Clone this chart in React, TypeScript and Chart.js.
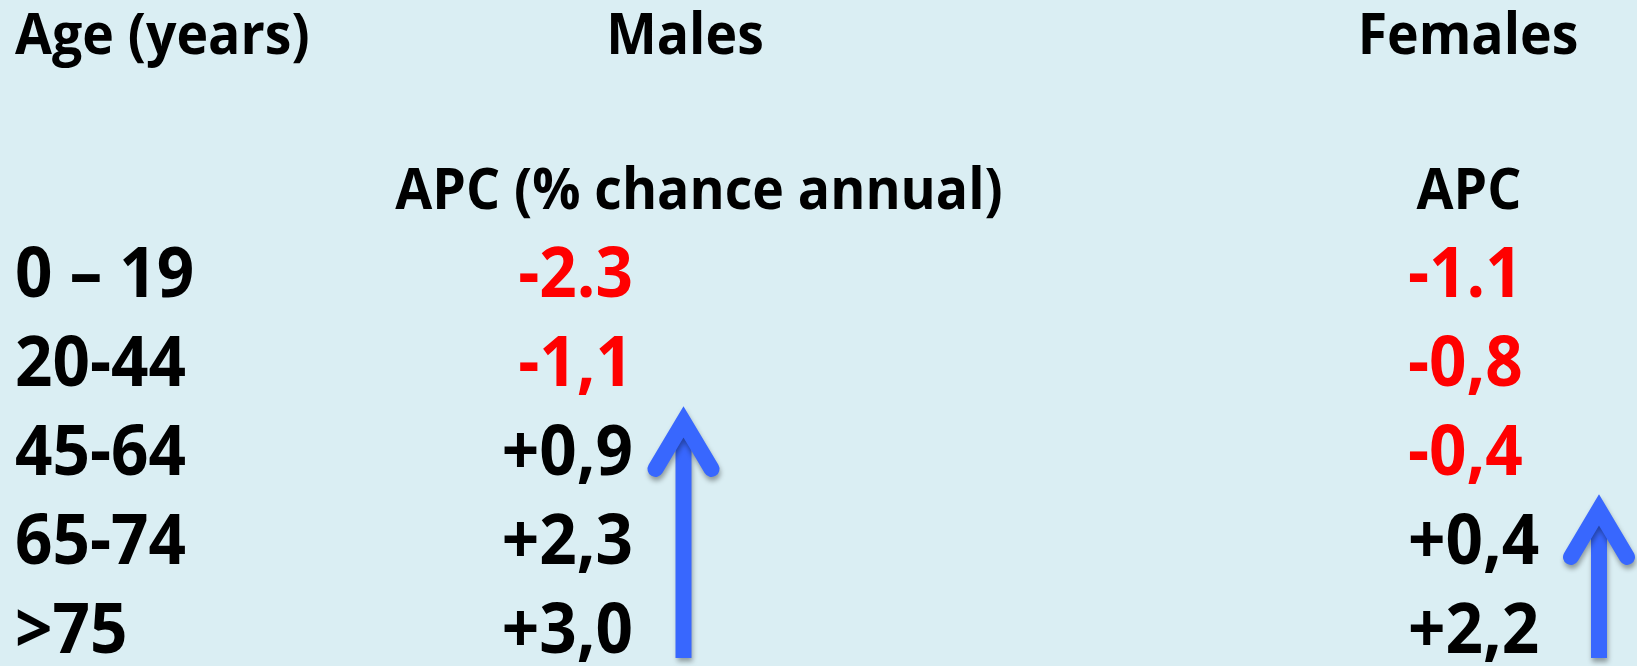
import React, { useEffect, useRef } from "react";
import { Chart, registerables } from "chart.js";

Chart.register(...registerables);

// ---- data ----
const ageGroups = ["0 – 19", "20-44", "45-64", "65-74", ">75"];
const maleAPC = ["-2.3", "-1,1", "+0,9", "+2,3", "+3,0"];
const femaleAPC = ["-1.1", "-0,8", "-0,4", "+0,4", "+2,2"];
const headerLabels = ["Age (years)", "Males", "Females"];
const subHeaderLabels = ["APC (% chance annual)", "APC"];
// arrows: [tip row, tail row]
const maleArrowRows = [1.213, 4.056];
const femaleArrowRows = [2.202, 4.056];

const BG = "#DAEEF3";
const RED = "#FF0000";
const BLACK = "#000000";
const BLUE = "#3867FE";
const FONT = "'Open Sans', Lato, sans-serif";
const HEAD_SIZE = 57;
const HEAD_SX = 0.94;
const ROW_SIZE = 69;
const ROW_SX = 0.95;

// layout columns (x scale units = px)
const COL_AGE = 15;
const COL_MALE_RIGHT = 633;
const COL_FEMALE_LEFT = 1408;
const MALE_ARROW_X = 683.5;
const FEMALE_ARROW_X = 1599;

function isNeg(v: string) {
  return v.trim().startsWith("-");
}

function drawText(
  ctx: CanvasRenderingContext2D,
  text: string,
  x: number,
  y: number,
  size: number,
  sx: number,
  align: "left" | "right" | "center",
  color: string
) {
  ctx.save();
  ctx.font = `bold ${size}px ${FONT}`;
  ctx.fillStyle = color;
  ctx.textBaseline = "alphabetic";
  const w = ctx.measureText(text).width * sx;
  let left = x;
  if (align === "right") left = x - w;
  if (align === "center") left = x - w / 2;
  ctx.translate(left, y);
  ctx.scale(sx, 1);
  ctx.textAlign = "left";
  ctx.fillText(text, 0, 0);
  ctx.restore();
}

const tablePlugin = {
  id: "tablePlugin",
  afterDatasetsDraw(chart: any) {
    const ctx: CanvasRenderingContext2D = chart.ctx;
    const xs = chart.scales.x;
    const ys = chart.scales.y;
    // headers
    const yHead = ys.getPixelForValue(-2.73);
    drawText(ctx, headerLabels[0], xs.getPixelForValue(COL_AGE), yHead, HEAD_SIZE, HEAD_SX, "left", BLACK);
    drawText(ctx, headerLabels[1], xs.getPixelForValue(685), yHead, HEAD_SIZE, HEAD_SX, "center", BLACK);
    drawText(ctx, headerLabels[2], xs.getPixelForValue(1468), yHead, HEAD_SIZE, HEAD_SX, "center", BLACK);
    const ySub = ys.getPixelForValue(-0.99);
    drawText(ctx, subHeaderLabels[0], xs.getPixelForValue(699), ySub, HEAD_SIZE, HEAD_SX, "center", BLACK);
    drawText(ctx, subHeaderLabels[1], xs.getPixelForValue(1469), ySub, HEAD_SIZE, HEAD_SX, "center", BLACK);

    const metaAge = chart.getDatasetMeta(0);
    metaAge.data.forEach((pt: any, i: number) => {
      drawText(ctx, ageGroups[i], pt.x, pt.y, ROW_SIZE, ROW_SX, "left", BLACK);
    });
    const metaM = chart.getDatasetMeta(1);
    metaM.data.forEach((pt: any, i: number) => {
      const v = maleAPC[i];
      drawText(ctx, v, pt.x, pt.y, ROW_SIZE, ROW_SX, "right", isNeg(v) ? RED : BLACK);
    });
    const metaF = chart.getDatasetMeta(2);
    metaF.data.forEach((pt: any, i: number) => {
      const v = femaleAPC[i];
      drawText(ctx, v, pt.x, pt.y, ROW_SIZE, ROW_SX, "left", isNeg(v) ? RED : BLACK);
    });

    // arrows
    const drawArrow = (xv: number, rows: number[]) => {
      const x = xs.getPixelForValue(xv);
      const yTip = ys.getPixelForValue(rows[0]);
      const yTail = ys.getPixelForValue(rows[1]);
      const lw = 16;
      ctx.save();
      ctx.shadowColor = "rgba(0,0,0,0.35)";
      ctx.shadowBlur = 5;
      ctx.shadowOffsetX = 1;
      ctx.shadowOffsetY = 4;
      ctx.fillStyle = BLUE;
      ctx.strokeStyle = BLUE;
      ctx.fillRect(x - lw / 2, yTip + 30, lw, yTail - (yTip + 30));
      ctx.lineWidth = lw;
      ctx.lineCap = "round";
      ctx.lineJoin = "miter";
      ctx.miterLimit = 10;
      ctx.beginPath();
      ctx.moveTo(x - 28, yTip + 64);
      ctx.lineTo(x, yTip + 17);
      ctx.lineTo(x + 28, yTip + 64);
      ctx.stroke();
      ctx.restore();
    };
    drawArrow(MALE_ARROW_X, maleArrowRows);
    drawArrow(FEMALE_ARROW_X, femaleArrowRows);
  },
};

export default function App() {
  const ref = useRef<HTMLCanvasElement | null>(null);
  useEffect(() => {
    document.body.style.margin = "0";
    document.body.style.background = BG;
    if (!ref.current) return;
    const chart = new Chart(ref.current, {
      type: "scatter",
      data: {
        datasets: [
          { label: "Age", data: ageGroups.map((_, i) => ({ x: COL_AGE, y: i })), pointRadius: 0 },
          { label: "Males", data: maleAPC.map((_, i) => ({ x: COL_MALE_RIGHT, y: i })), pointRadius: 0 },
          { label: "Females", data: femaleAPC.map((_, i) => ({ x: COL_FEMALE_LEFT, y: i })), pointRadius: 0 },
        ],
      },
      options: {
        animation: false,
        responsive: false,
        layout: { padding: 0 },
        plugins: { legend: { display: false }, tooltip: { enabled: false }, title: { display: false } },
        scales: {
          x: { type: "linear", display: false, min: 0, max: 1637 },
          y: { type: "linear", display: false, min: -3.337, max: 4.146, reverse: true },
        },
      },
      plugins: [tablePlugin],
    });
    return () => chart.destroy();
  }, []);
  return (
    <div style={{ width: 1637, height: 666, background: BG }}>
      <canvas ref={ref} width={1637} height={666} style={{ display: "block" }} />
    </div>
  );
}
